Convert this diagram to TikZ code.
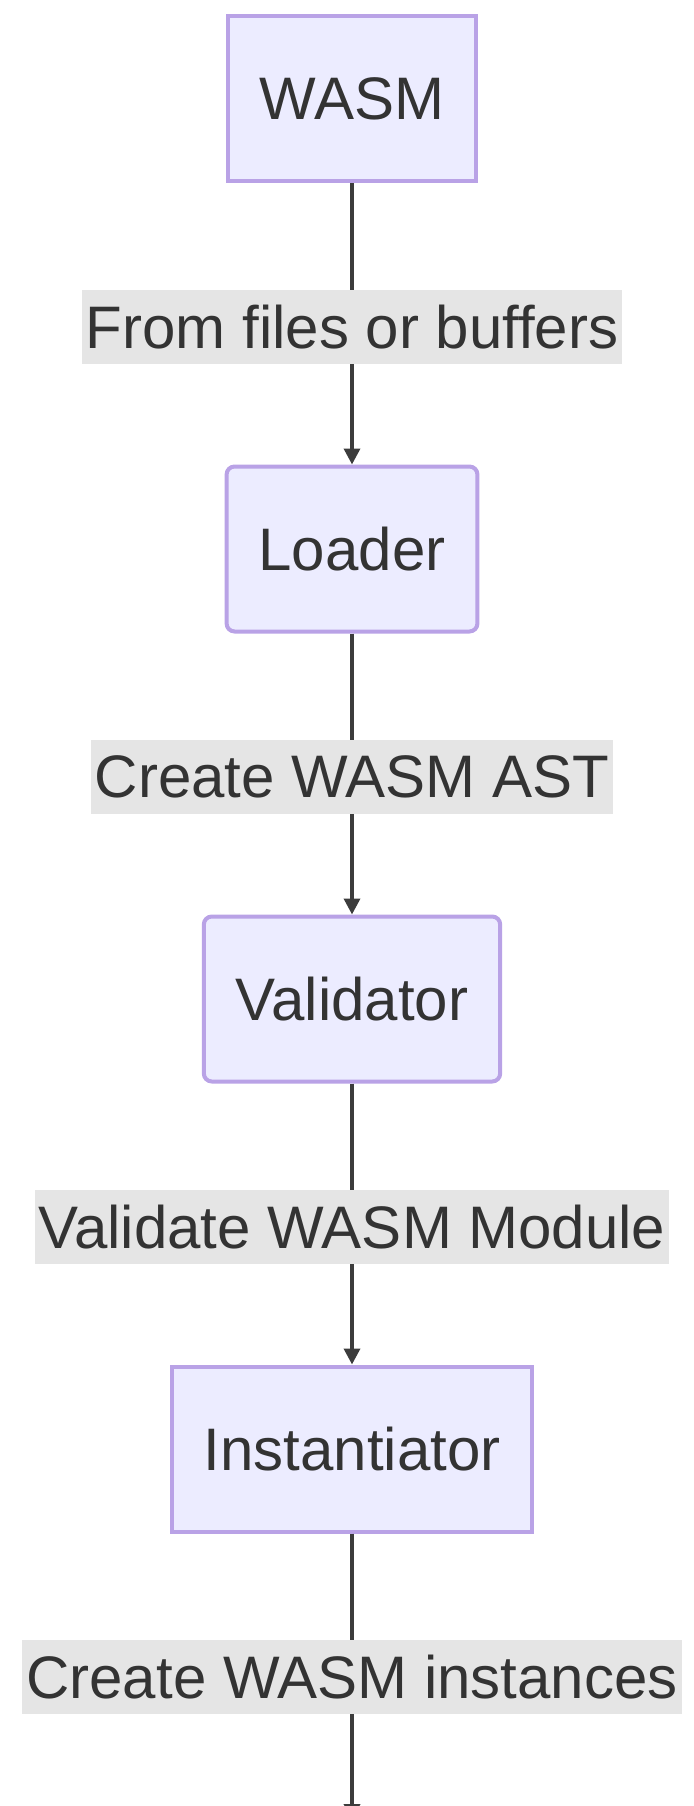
\documentclass[tikz,border=0pt]{standalone}
\usepackage{fontspec}
\setmainfont{Liberation Sans}
\usetikzlibrary{arrows.meta}
\definecolor{boxfill}{HTML}{ECECFF}
\definecolor{boxline}{HTML}{B9A2E6}
\definecolor{txt}{HTML}{333333}
\definecolor{lblfill}{HTML}{E5E5E5}
\definecolor{edgecol}{HTML}{3C3C3C}
\tikzset{
  box/.style={draw=boxline, line width=4pt, fill=boxfill, text=txt,
    inner xsep=32pt, inner ysep=0pt, minimum height=165pt,
    font=\fontsize{60}{72}\selectfont},
  rbox/.style={box, rounded corners=8pt},
  lbl/.style={fill=lblfill, text=txt, inner xsep=4pt, inner ysep=0pt,
    minimum height=74pt, font=\fontsize{60}{72}\selectfont},
  edge/.style={draw=edgecol, line width=3.5pt,
    -{Triangle[length=16pt,width=16pt]}}
}
\begin{document}
\begin{tikzpicture}[x=1pt,y=-1pt]
\useasboundingbox (0,0) rectangle (693,1806);
\node[box]  (wasm)  at (352,99)  {WASM};
\node[rbox] (load)  at (352,549) {Loader};
\node[rbox] (valid) at (352,999) {Validator};
\node[box]  (inst)  at (352,1449) {Instantiator};
\coordinate (end) at (352,1820);
\draw[edge] (wasm.south) -- node[lbl, pos=0.51]{From files or buffers} (load.north);
\draw[edge] (load.south) -- node[lbl, pos=0.51]{Create WASM AST} (valid.north);
\draw[edge] (valid.south) -- node[lbl, pos=0.51]{Validate WASM Module} (inst.north);
\draw[edge] (inst.south) -- node[lbl, pos=0.5]{Create WASM instances} (end);
\end{tikzpicture}
\end{document}
